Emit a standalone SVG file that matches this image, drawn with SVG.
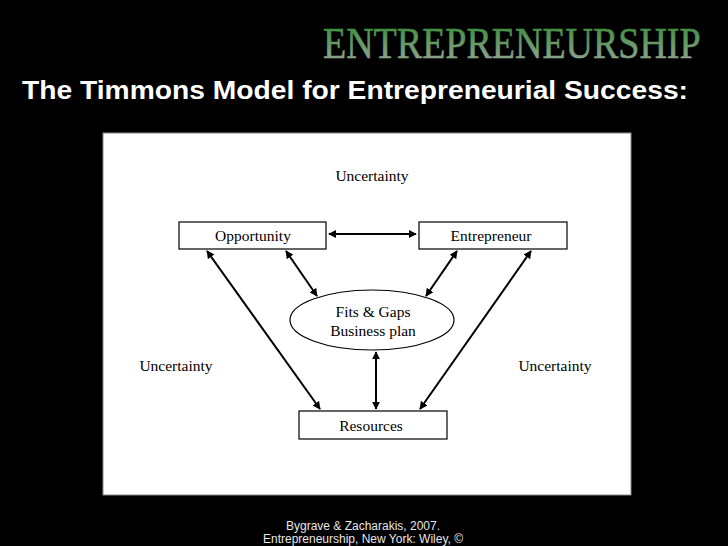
<svg xmlns="http://www.w3.org/2000/svg" width="728" height="546" viewBox="0 0 728 546">
<defs>
<linearGradient id="g" x1="0" y1="0" x2="0" y2="1">
<stop offset="0" stop-color="#2f8a2f"/>
<stop offset="1" stop-color="#a0a8a0"/>
</linearGradient>
<marker id="a" viewBox="0 0 10 10" refX="9" refY="5" markerWidth="4" markerHeight="4" orient="auto-start-reverse">
<path d="M0,0 L10,5 L0,10 z" fill="#000"/>
</marker>
<style>
.n{fill:#fff;stroke:#000;stroke-width:1.2}
.t{font-family:"Liberation Serif",serif;font-size:15.5px;fill:#000}
.c{stroke:#000;stroke-width:2;fill:none;marker-start:url(#a);marker-end:url(#a)}
</style>
</defs>
<rect width="728" height="546" fill="#000"/>
<text transform="translate(323,58) scale(0.79,1)" x="0" y="0" font-family="Liberation Serif,serif" font-size="44" fill="url(#g)" stroke="url(#g)" stroke-width="0.6" textLength="478" lengthAdjust="spacingAndGlyphs">ENTREPRENEURSHIP</text>
<text x="22" y="99" font-family="Liberation Sans,Arial,sans-serif" font-size="25" font-weight="bold" fill="#fff" textLength="666" lengthAdjust="spacingAndGlyphs">The Timmons Model for Entrepreneurial Success:</text>
<rect x="103" y="133" width="528" height="362" fill="#fff" stroke="#888" stroke-width="1"/>
<g id="connectors">
<line class="c" x1="329" y1="234" x2="416" y2="234"/>
<line class="c" x1="286" y1="251" x2="317" y2="296"/>
<line class="c" x1="457" y1="251" x2="426" y2="296"/>
<line class="c" x1="207" y1="251" x2="320" y2="409"/>
<line class="c" x1="531" y1="251" x2="420" y2="409"/>
<line class="c" x1="376" y1="352" x2="376" y2="409"/>
</g>
<g id="opportunity"><rect class="n" x="179" y="222" width="147" height="27"/><text class="t" x="253" y="241" text-anchor="middle">Opportunity</text></g>
<g id="entrepreneur"><rect class="n" x="419" y="222" width="148" height="27"/><text class="t" x="491" y="241" text-anchor="middle">Entrepreneur</text></g>
<g id="fits"><ellipse class="n" cx="372" cy="320" rx="82" ry="30"/><text class="t" x="373" y="317" text-anchor="middle">Fits &amp; Gaps</text><text class="t" x="373" y="336" text-anchor="middle">Business plan</text></g>
<g id="resources"><rect class="n" x="299" y="411" width="148" height="28"/><text class="t" x="371" y="431" text-anchor="middle">Resources</text></g>
<g id="uncertainty"><text class="t" x="372" y="181" text-anchor="middle">Uncertainty</text>
<text class="t" x="176" y="371" text-anchor="middle">Uncertainty</text>
<text class="t" x="555" y="371" text-anchor="middle">Uncertainty</text></g>
<g font-family="Liberation Sans,Arial,sans-serif" font-size="12" fill="#e6e6e6" text-anchor="middle">
<text x="363" y="530">Bygrave &amp; Zacharakis, 2007.</text>
<text x="363" y="543">Entrepreneurship, New York: Wiley,  ©</text>
</g>
</svg>
